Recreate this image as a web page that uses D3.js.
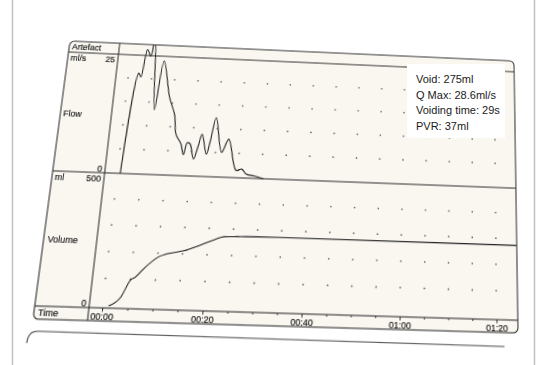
<!DOCTYPE html>
<html><head><meta charset="utf-8">
<script src="https://cdn.jsdelivr.net/npm/d3@7/dist/d3.min.js"></script>
<style>
html,body{margin:0;padding:0;background:#fff;width:543px;height:365px;overflow:hidden;}
#warp{position:absolute;left:0;top:0;width:540px;height:340px;transform-origin:0 0;}
#flat{position:absolute;left:0;top:0;}
</style></head><body>
<div id="warp"></div>
<svg id="flat" width="543" height="365"></svg>
<script>
// ---------------- data ----------------
const flowTime = [0.6, 2.16, 2.7, 3.52, 4.36, 4.74, 5.0, 6.3, 7.33, 9.26, 10.7, 11.35, 12.6, 13.3, 13.9, 14.5, 15.5, 16.3, 16.9, 18.1, 18.75, 19.6, 21.3, 22.6, 24.6, 25.8, 26.8, 28.5, 30.5];
const flowRate = [0, 21.1, 20.3, 26.3, 24.9, 27.4, 28.6, 13.4, 24.0, 16.2, 12.5, 8.5, 6.5, 4.3, 6.8, 6.6, 3.5, 6.4, 8.7, 4.6, 7.5, 12.3, 5.1, 7.9, 1.5, 1.8, 0.8, 0.5, 0];
const volTime  = [1.2, 3.44, 5.1, 5.87, 7.35, 10.2, 11.8, 15.2, 18.6, 21.2, 23.2, 25.9, 30, 84.4];
const volValue = [0, 33.5, 99, 107, 138.5, 186, 198, 211.5, 236.5, 257, 270, 272, 274, 275];
const majorTicks = [0, 20, 40, 60, 80];
const minorTicks = [0, 5, 10, 15, 20, 25, 30, 35, 40, 45, 50, 55, 60, 65, 70, 75, 80];
const flowGridVals = [5, 10, 15, 20];
const volGridVals = [100, 200, 300, 400];
const flowTicks = [0, 25];
const volTicks = [0, 500];
const rowLabels = ["Artefact", "ml/s", "Flow", "ml", "Volume", "Time"];
const summaryLines = ["Void: 275ml", "Q Max: 28.6ml/s", "Voiding time: 29s", "PVR: 37ml"];

// ---------------- layout (ideal paper coordinates) ----------------
const OX = 20, OY = 15;
const W = 484, H = 278, LW = 53;
const yArt = 12, yFlow0 = 136, yAxis = 266;
const FONT = "'Liberation Sans', Arial, sans-serif";
const INK = "#2a2a2a";

const x = d3.scaleLinear().domain([0, 80]).range([66, 462]);
const yF = d3.scaleLinear().domain([0, 25]).range([yFlow0, yArt]);
const yV = d3.scaleLinear().domain([0, 500]).range([264, yFlow0]);

const svg = d3.select("#warp").append("svg").attr("width", 540).attr("height", 340);
const g = svg.append("g").attr("transform", `translate(${OX},${OY})`);

// frame fill
g.append("rect").attr("x", 0).attr("y", 0).attr("width", W).attr("height", H)
  .attr("rx", 5).attr("fill", "#f9f7f0").attr("stroke", "none");

// dotted grid
const dots = [];
minorTicks.forEach(t => {
  flowGridVals.forEach(v => dots.push([x(t), yF(v)]));
  volGridVals.forEach(v => dots.push([x(t), yV(v)]));
});
g.append("g").selectAll("circle").data(dots).join("circle")
  .attr("cx", d => d[0]).attr("cy", d => d[1]).attr("r", 0.85).attr("fill", "#666");

// structural lines
const lines = g.append("g").attr("stroke", INK).attr("stroke-width", 1.05).attr("fill", "none");
lines.append("line").attr("x1", 0).attr("x2", W).attr("y1", yArt).attr("y2", yArt);
lines.append("line").attr("x1", 0).attr("x2", W).attr("y1", yFlow0).attr("y2", yFlow0);
lines.append("line").attr("x1", 0).attr("x2", W).attr("y1", yAxis).attr("y2", yAxis);
lines.append("line").attr("x1", LW).attr("x2", LW).attr("y1", 0).attr("y2", H);
lines.append("rect").attr("x", 0).attr("y", 0).attr("width", W).attr("height", H).attr("rx", 5);
// lower panel edge
lines.append("path").attr("stroke", "#555")
  .attr("d", `M-3,${H + 22} Q-3,${H + 11} 6,${H + 11} L470,${H + 13}`);

// clip for flow
svg.append("defs").append("clipPath").attr("id", "fclip")
  .append("rect").attr("x", LW).attr("y", 0).attr("width", W - LW).attr("height", yFlow0 + 0.5);

// flow curve
const flowPts = flowTime.map((t, i) => [t, flowRate[i]]);
g.append("path").datum(flowPts).attr("clip-path", "url(#fclip)")
  .attr("fill", "none").attr("stroke", "#222").attr("stroke-width", 1.15)
  .attr("d", d3.line().x(d => x(d[0])).y(d => yF(d[1])).curve(d3.curveCatmullRom.alpha(0.5)));

// volume curve
const volPts = volTime.map((t, i) => [t, volValue[i]]);
g.append("path").datum(volPts)
  .attr("fill", "none").attr("stroke", "#222").attr("stroke-width", 1.05)
  .attr("d", d3.line().x(d => x(d[0])).y(d => yV(d[1])).curve(d3.curveMonotoneX));

// time axis
const fmt = t => { const m = Math.floor(t / 60), s = t % 60; return String(m).padStart(2, "0") + ":" + String(s).padStart(2, "0"); };
const minorAx = g.append("g").attr("transform", `translate(0,${yAxis})`)
  .call(d3.axisBottom(x).tickValues(minorTicks).tickSize(2).tickFormat(""));
minorAx.select(".domain").remove();
const majorAx = g.append("g").attr("transform", `translate(0,${yAxis})`)
  .call(d3.axisBottom(x).tickValues(majorTicks).tickSize(3.5).tickFormat(fmt));
majorAx.select(".domain").remove();
g.selectAll(".tick line").attr("stroke", INK).attr("stroke-width", 0.9);
majorAx.selectAll("text").attr("y", 11).attr("dy", 0);

// left axes (value labels only)
const fAx = g.append("g").attr("transform", `translate(${LW - 3},0)`)
  .call(d3.axisLeft(yF).tickValues(flowTicks).tickSize(0).tickPadding(0));
fAx.select(".domain").remove();
fAx.selectAll("text").attr("dy", d => d === 25 ? 8.5 : -2);
const vAx = g.append("g").attr("transform", `translate(${LW - 3},0)`)
  .call(d3.axisLeft(yV).tickValues(volTicks).tickSize(0).tickPadding(0));
vAx.select(".domain").remove();
vAx.selectAll("text").attr("dy", d => d === 500 ? 8 : 0);
g.selectAll(".tick text").attr("font-family", FONT).attr("font-size", 9)
  .attr("fill", "#111").attr("stroke", "#111").attr("stroke-width", 0.15);

// row labels
const labelPos = [[3, 9.3], [3, 21], [3, 80], [3, 145], [4, 206], [4, 275.5]];
g.append("g").selectAll("text").data(rowLabels).join("text")
  .attr("x", (d, i) => labelPos[i][0]).attr("y", (d, i) => labelPos[i][1])
  .attr("font-family", FONT).attr("font-size", 9).attr("fill", "#111")
  .attr("stroke", "#111").attr("stroke-width", 0.15).text(d => d);

// ---------------- perspective warp (photo of paper) ----------------
function homography(src, dst) {
  const A = [], B = [];
  for (let i = 0; i < 4; i++) {
    const [sx, sy] = src[i], [u, v] = dst[i];
    A.push([sx, sy, 1, 0, 0, 0, -sx * u, -sy * u]); B.push(u);
    A.push([0, 0, 0, sx, sy, 1, -sx * v, -sy * v]); B.push(v);
  }
  const n = 8;
  for (let c = 0; c < n; c++) {
    let p = c;
    for (let r = c + 1; r < n; r++) if (Math.abs(A[r][c]) > Math.abs(A[p][c])) p = r;
    [A[c], A[p]] = [A[p], A[c]]; [B[c], B[p]] = [B[p], B[c]];
    for (let r = 0; r < n; r++) {
      if (r === c) continue;
      const f = A[r][c] / A[c][c];
      for (let k = c; k < n; k++) A[r][k] -= f * A[c][k];
      B[r] -= f * B[c];
    }
  }
  return B.map((b, i) => b / A[i][i]);
}
const src = [[OX, OY], [OX + W, OY], [OX + W, OY + H], [OX, OY + H]];
const dst = [[70, 41], [514, 61], [518, 333], [33, 319]];
const [a, b, c, d, e, f, gg, hh] = homography(src, dst);
document.getElementById("warp").style.transform =
  `matrix3d(${a},${d},0,${gg},${b},${e},0,${hh},0,0,1,0,${c},${f},0,1)`;

// ---------------- flat overlay ----------------
const flat = d3.select("#flat");
flat.append("line").attr("x1", 12.5).attr("x2", 12.5).attr("y1", 0).attr("y2", 365)
  .attr("stroke", "#c2c2c2").attr("stroke-width", 1.5);
flat.append("line").attr("x1", 534.5).attr("x2", 534.5).attr("y1", 0).attr("y2", 365)
  .attr("stroke", "#c2c2c2").attr("stroke-width", 1.5);
flat.append("rect").attr("x", 407).attr("y", 64).attr("width", 98).attr("height", 74).attr("fill", "#fff");
flat.append("g").selectAll("text").data(summaryLines).join("text")
  .attr("x", 416).attr("y", (d, i) => 83 + i * 15.5)
  .attr("font-family", FONT).attr("font-size", 11).attr("fill", "#1a1a1a").text(d => d);
</script>
</body></html>
